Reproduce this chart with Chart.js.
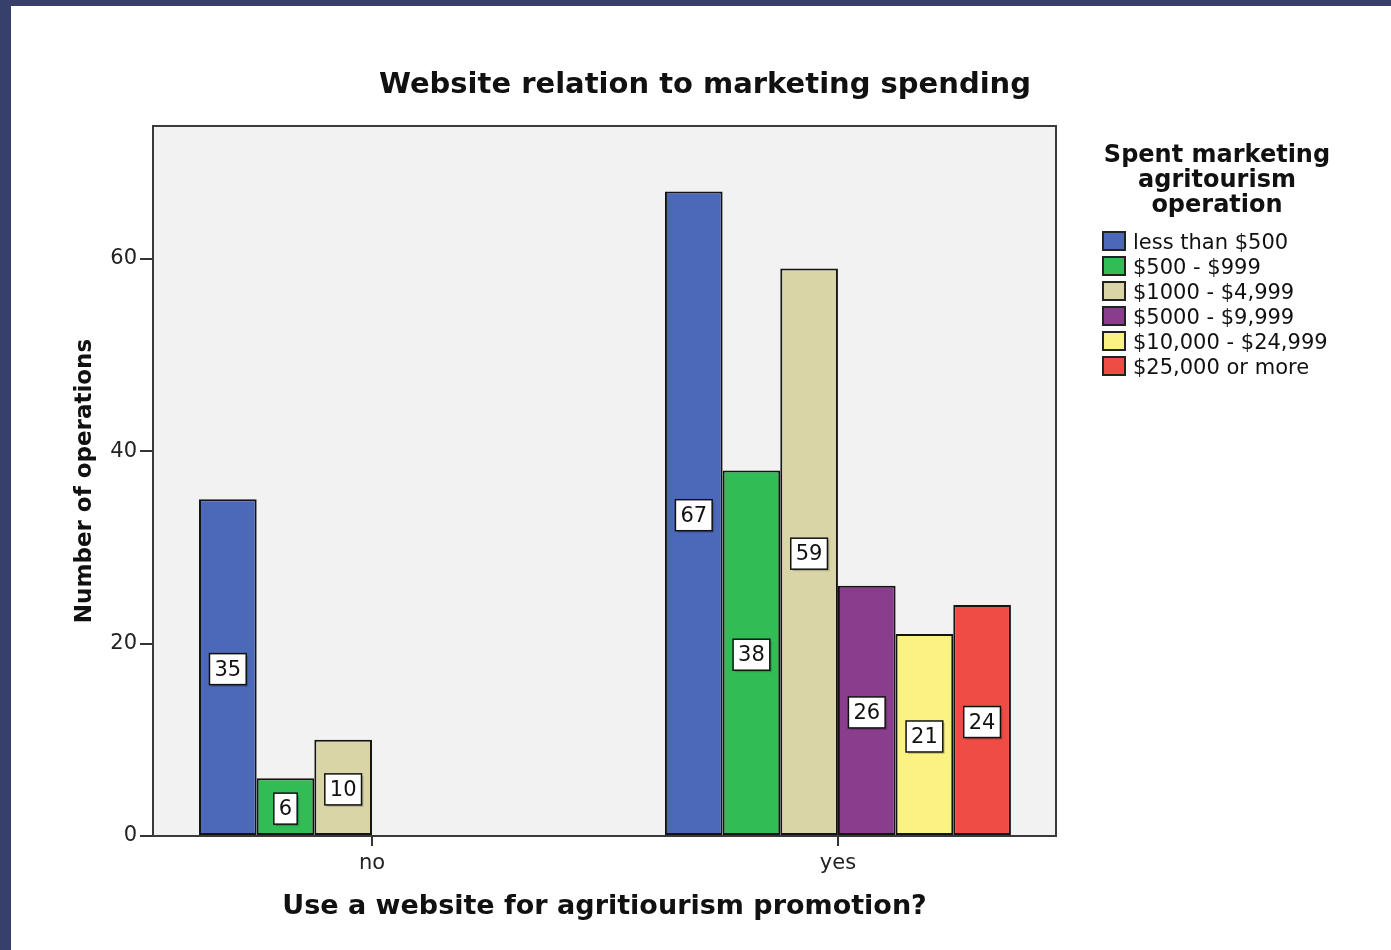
<!DOCTYPE html>
<html>
<head>
<meta charset="utf-8">
<title>Website relation to marketing spending</title>
<script src="https://cdn.jsdelivr.net/npm/chart.js@4.4.1/dist/chart.umd.min.js"></script>
<style>
  html, body { margin: 0; padding: 0; background: #37406b; overflow: hidden; }
  #wrap { position: absolute; left: 11px; top: 6px; width: 1380px; height: 944px; background: #fff; }
</style>
</head>
<body>
<div id="wrap"><canvas id="chart" width="1380" height="944"></canvas></div>
<script>
// website use (x) by marketing spend (series)
const categories = ['no', 'yes'];
const spendLabels = ['less than $500', '$500 - $999', '$1000 - $4,999', '$5000 - $9,999', '$10,000 - $24,999', '$25,000 or more'];
const lessThan500 = [35, 67];
const from500 = [6, 38];
const from1000 = [10, 59];
const from5000 = [null, 26];
const from10000 = [null, 21];
const from25000 = [null, 24];
const yTicks = [0, 20, 40, 60];

const seriesValues = [lessThan500, from500, from1000, from5000, from10000, from25000];
const seriesColors = ['#4b68b9', '#31bc56', '#d9d5a7', '#8a3d8d', '#faf383', '#ee4c45'];

const FONT = 'DejaVu Sans';
const INK = '#111';

const chartTitle = 'Website relation to marketing spending';
const legendTitle = ['Spent marketing', 'agritourism', 'operation'];

// plot background, frame, value boxes, title and legend
const spssLook = {
  id: 'spssLook',
  beforeDraw(chart) {
    const { ctx, chartArea: a } = chart;
    ctx.save();
    ctx.fillStyle = '#f2f2f2';
    ctx.fillRect(a.left, a.top, a.right - a.left, a.bottom - a.top);
    ctx.restore();
  },
  afterDatasetsDraw(chart) {
    const { ctx, chartArea: a } = chart;
    ctx.save();
    ctx.strokeStyle = '#3a3a3a';
    ctx.lineWidth = 2;
    ctx.strokeRect(a.left, a.top, a.right - a.left, a.bottom - a.top);

    // value boxes in the middle of each bar
    ctx.font = '21px "' + FONT + '"';
    ctx.textAlign = 'center';
    ctx.textBaseline = 'middle';
    chart.data.datasets.forEach((ds, di) => {
      const meta = chart.getDatasetMeta(di);
      meta.data.forEach((bar, i) => {
        const v = ds.data[i].y;
        if (v === null || v === undefined) return;
        const txt = String(v);
        const w = ctx.measureText(txt).width + 10;
        const h = 31;
        const cx = bar.x;
        const cy = (bar.y + bar.base) / 2 + 2;
        // faint drop shadow
        ctx.fillStyle = 'rgba(0,0,0,0.18)';
        ctx.fillRect(cx - w / 2 + 2, cy - h / 2 + 2, w, h);
        ctx.fillStyle = '#fff';
        ctx.fillRect(cx - w / 2, cy - h / 2, w, h);
        ctx.strokeStyle = '#111';
        ctx.lineWidth = 1.5;
        ctx.strokeRect(cx - w / 2, cy - h / 2, w, h);
        ctx.fillStyle = INK;
        ctx.fillText(txt, cx, cy + 1);
      });
    });
    ctx.restore();
  },
  afterDraw(chart) {
    const { ctx } = chart;
    ctx.save();
    ctx.fillStyle = INK;
    ctx.textBaseline = 'alphabetic';

    // chart title
    ctx.font = 'bold 29px "' + FONT + '"';
    ctx.textAlign = 'center';
    ctx.fillText(chartTitle, 694, 87);

    // legend title
    ctx.font = 'bold 24px "' + FONT + '"';
    legendTitle.forEach((line, i) => ctx.fillText(line, 1206, 156 + i * 25));

    // legend items
    ctx.font = '21px "' + FONT + '"';
    ctx.textAlign = 'left';
    chart.data.datasets.forEach((ds, i) => {
      const top = 226 + i * 25;
      ctx.fillStyle = ds.backgroundColor;
      ctx.fillRect(1092, top, 22, 18);
      ctx.strokeStyle = '#222';
      ctx.lineWidth = 2;
      ctx.strokeRect(1092, top, 22, 18);
      ctx.fillStyle = INK;
      ctx.fillText(ds.label, 1122, top + 17);
    });
    ctx.restore();
  }
};

const ctx = document.getElementById('chart');

new Chart(ctx, {
  type: 'bar',
  data: {
    datasets: spendLabels.map((label, s) => ({
      label: label,
      data: seriesValues[s].map((v, i) => ({ x: i, y: v })),
      backgroundColor: seriesColors[s],
      borderColor: '#141414',
      borderWidth: 2,
      borderSkipped: false,
      barPercentage: 1,
      categoryPercentage: 0.7425,
    })),
  },
  options: {
    responsive: false,
    animation: false,
    devicePixelRatio: 1,
    events: [],
    layout: {
      padding: { left: 0, top: 120, right: 335, bottom: 0 },
    },
    scales: {
      x: {
        type: 'linear',
        min: -0.47,
        max: 1.468,
        offset: false,
        afterBuildTicks: (s) => { s.ticks = categories.map((c, i) => ({ value: i })); },
        afterFit: (s) => { s.height = 114; },
        grid: {
          drawOnChartArea: false,
          tickLength: 10,
          color: '#333',
          lineWidth: 2,
          offset: false,
        },
        border: { display: false },
        ticks: {
          callback: (v) => categories[v],
          font: { family: FONT, size: 21 },
          color: '#222',
          padding: 5,
          maxRotation: 0,
          autoSkip: false,
        },
        title: {
          display: true,
          text: 'Use a website for agritiourism promotion?',
          font: { family: FONT, size: 27, weight: 'bold' },
          color: INK,
          padding: { top: 0, bottom: 27 },
        },
      },
      y: {
        min: 0,
        max: 73.8,
        afterBuildTicks: (s) => { s.ticks = yTicks.map((v) => ({ value: v })); },
        afterFit: (s) => { s.width = 142; },
        grid: {
          drawOnChartArea: false,
          tickLength: 13,
          color: '#333',
          lineWidth: 2,
        },
        border: { display: false },
        ticks: {
          font: { family: FONT, size: 21 },
          color: '#222',
          padding: 3,
        },
        title: {
          display: true,
          text: 'Number of operations',
          font: { family: FONT, size: 23, weight: 'bold' },
          color: INK,
          padding: { top: 60, bottom: 0 },
        },
      },
    },
    plugins: {
      legend: { display: false },
      tooltip: { enabled: false },
    },
  },
  plugins: [spssLook],
});
</script>
</body>
</html>
